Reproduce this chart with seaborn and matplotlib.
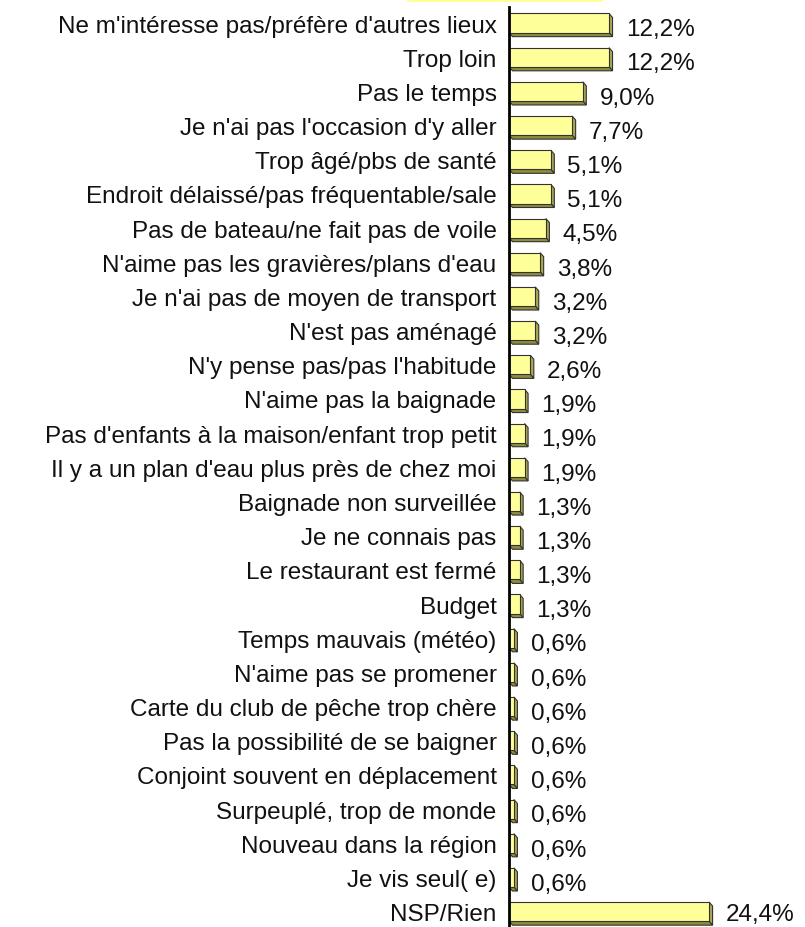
import numpy as np
import pandas as pd
import matplotlib
matplotlib.use("Agg")
import matplotlib.pyplot as plt
from matplotlib.patches import Polygon, Rectangle
import seaborn as sns

labels = [
    "Ne m'intéresse pas/préfère d'autres lieux",
    "Trop loin",
    "Pas le temps",
    "Je n'ai pas l'occasion d'y aller",
    "Trop âgé/pbs de santé",
    "Endroit délaissé/pas fréquentable/sale",
    "Pas de bateau/ne fait pas de voile",
    "N'aime pas les gravières/plans d'eau",
    "Je n'ai pas de moyen de transport",
    "N'est pas aménagé",
    "N'y pense pas/pas l'habitude",
    "N'aime pas la baignade",
    "Pas d'enfants à la maison/enfant trop petit",
    "Il y a un plan d'eau plus près de chez moi",
    "Baignade non surveillée",
    "Je ne connais pas",
    "Le restaurant est fermé",
    "Budget",
    "Temps mauvais (météo)",
    "N'aime pas se promener",
    "Carte du club de pêche trop chère",
    "Pas la possibilité de se baigner",
    "Conjoint souvent en déplacement",
    "Surpeuplé, trop de monde",
    "Nouveau dans la région",
    "Je vis seul( e)",
    "NSP/Rien",
]
values = [12.2, 12.2, 9.0, 7.7, 5.1, 5.1, 4.5, 3.8, 3.2, 3.2, 2.6, 1.9, 1.9, 1.9,
          1.3, 1.3, 1.3, 1.3, 0.6, 0.6, 0.6, 0.6, 0.6, 0.6, 0.6, 0.6, 24.4]

df = pd.DataFrame({"raison": labels, "pct": values})

sns.set_style("white")
plt.rcParams["font.family"] = ["Liberation Sans", "DejaVu Sans"]

W, H = 805, 928
fig = plt.figure(figsize=(W / 100, H / 100), dpi=100)
ax = fig.add_axes([509 / W, 0, (W - 509) / W, 1 - 8 / H])

sns.barplot(data=df, y="raison", x="pct", orient="h", color="#FFFF99",
            saturation=1, width=0.56, edgecolor="#333333", linewidth=0.8, ax=ax)

ax.set_xlim(0, (W - 509) / 8.2)
ax.set_ylim(26.45, -0.47)

# faces 3D (côté et dessous)
dx = 3.5 / 8.2
dy = 4.0 / 34.2
for p in list(ax.patches):
    x0, y0 = p.get_x(), p.get_y()
    w, h = p.get_width(), p.get_height()
    x1, y1 = x0 + w, y0 + h
    side = Polygon([(x1, y0), (x1 + dx, y0 + dy), (x1 + dx, y1 + dy), (x1, y1)],
                   closed=True, facecolor="#A8A850", edgecolor="#333333",
                   linewidth=0.8, zorder=p.get_zorder() - 0.1)
    bottom = Polygon([(x0, y1), (x1, y1), (x1 + dx, y1 + dy), (x0 + dx, y1 + dy)],
                     closed=True, facecolor="#8C8C3C", edgecolor="#333333",
                     linewidth=0.8, zorder=p.get_zorder() - 0.1)
    ax.add_patch(side)
    ax.add_patch(bottom)

n = len(values)
for i, v in enumerate(values):
    dyo = -4.5 if i < n - 1 else -1.5
    ax.annotate(f"{v:.1f}".replace(".", ",") + "%", xy=(v, i), xytext=(12, dyo),
                textcoords="offset points", ha="left", va="center", fontsize=17.5,
                color="#111111", annotation_clip=False)

for s in ["top", "right", "bottom"]:
    ax.spines[s].set_visible(False)
ax.spines["left"].set_color("black")
ax.spines["left"].set_linewidth(2)

ax.set_xticks([])
ax.set_yticks(range(n))
ax.set_yticklabels(labels, fontsize=17.5, color="#111111")
ax.tick_params(axis="y", length=0, pad=9)
ax.set_yticks(np.arange(n - 1) + 0.5, minor=True)
ax.tick_params(axis="y", which="minor", length=4, width=1, direction="out", color="black")
ax.set_xlabel("")
ax.set_ylabel("")

fig.patches.append(Rectangle((407 / W, 1 - 3 / H), (603 - 407) / W, 3 / H,
                             transform=fig.transFigure, facecolor="#FFFF99",
                             edgecolor="none"))

fig.savefig("out.png", dpi=100)
